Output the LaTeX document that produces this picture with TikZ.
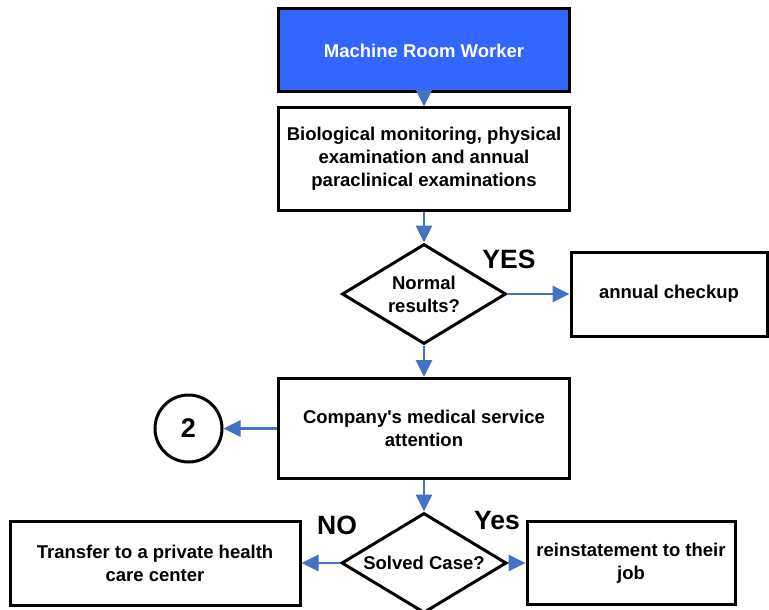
\documentclass[tikz,border=0pt]{standalone}
\usepackage{fontspec}
\setmainfont{Liberation Sans}
\usetikzlibrary{arrows.meta,shapes.geometric}
\definecolor{topblue}{HTML}{3366FF}
\definecolor{arrblue}{HTML}{4472C4}
\begin{document}
\begin{tikzpicture}[x=1pt,y=-1pt,
  box/.style={draw=black,line width=3pt,rectangle,inner sep=0pt,align=center,
    font=\fontsize{18.5}{23}\selectfont\bfseries},
  decision/.style={draw=black,line width=3pt,diamond,inner sep=0pt,aspect=1.64},
  txt/.style={align=center,font=\fontsize{18.5}{23}\selectfont\bfseries,inner sep=0pt},
  biglbl/.style={font=\fontsize{26.5}{30}\selectfont\bfseries,inner sep=0pt},
  conn/.style={draw=arrblue,line width=2.8pt,-{Triangle[length=17pt,width=16pt]}}
]
\useasboundingbox (0,0) rectangle (769,610);
\clip (0,0) rectangle (769,610);
\fill[white] (0,0) rectangle (769,610);

\node[box,fill=topblue,text=white,minimum width=291,minimum height=83] (b1) at (424,50.5) {Machine Room Worker};
\node[box,minimum width=291,minimum height=102] (b2) at (424,159) {Biological monitoring, physical\\examination and annual\\paraclinical examinations};
\node[decision,minimum width=164,minimum height=100] (d1) at (424,294) {};
\node[txt] (d1t) at (424,294) {Normal\\results?};
\node[box,minimum width=196,minimum height=84] (ac) at (669,294) {annual checkup};
\node[box,minimum width=291,minimum height=100] (b3) at (424,428.5) {Company\textquotesingle s medical service\\attention};
\node[draw=black,line width=3pt,circle,minimum size=67,inner sep=0pt,font=\fontsize{27}{30}\selectfont\bfseries] (c2) at (188.5,428.5) {2};
\node[decision,minimum width=165,minimum height=100] (d2) at (424,563) {};
\node[txt] (d2t) at (424,563) {Solved Case?};
\node[box,minimum width=290,minimum height=84] (lb) at (155,563) {Transfer to a private health\\care center};
\node[box,minimum width=208,minimum height=83] (rb) at (631,563) {reinstatement to their\\job};

\node[biglbl] (yes1) at (509,259.5) {YES};
\node[biglbl] (no2) at (337,525) {NO};
\node[biglbl] (yes2) at (497,521) {Yes};

\draw[conn] (b1.south) -- (b2.north);
\draw[conn] (b2.south) -- (d1.north);
\draw[conn] (d1.east) -- (ac.west);
\draw[conn] (d1.south) -- (b3.north);
\draw[conn] (b3.west) -- (c2.east);
\draw[conn] (b3.south) -- (d2.north);
\draw[conn] (d2.west) -- (lb.east);
\draw[conn] (d2.east) -- (rb.west);
\end{tikzpicture}
\end{document}
